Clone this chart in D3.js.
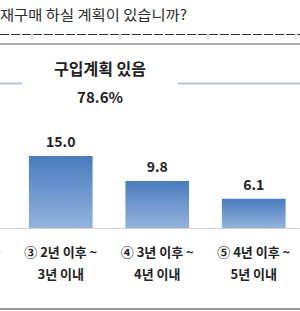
<!DOCTYPE html>
<html>
<head>
<meta charset="utf-8" />
<title>재구매 계획</title>
<style>
  body { margin: 0; background: #fff; }
  svg { display: block; font-family: "Noto Sans CJK KR", "Noto Sans", sans-serif; }
</style>
</head>
<body>
<svg id="chart" width="300" height="311"></svg>
<script src="https://d3js.org/d3.v7.min.js"></script>
<script>
// ---- data ----
var titleText = "재구매 하실 계획이 있습니까?";
var calloutLabel = "구입계획 있음";
var calloutValue = "78.6%";
var categoryLine1 = ["① 1년 이내", "② 1년 이후 ~", "③ 2년 이후 ~", "④ 3년 이후 ~", "⑤ 4년 이후 ~"];
var categoryLine2 = ["", "2년 이내", "3년 이내", "4년 이내", "5년 이내"];
var values = [22.4, 25.3, 15.0, 9.8, 6.1];   // first two are off-screen, estimated

var svg = d3.select("#chart");
var W = 300, baseY = 228;

// title + rules
svg.append("text").attr("x", 0).attr("y", 20)
  .attr("font-size", 14).attr("fill", "#2b2b2b")
  .attr("textLength", 187).attr("lengthAdjust", "spacingAndGlyphs")
  .text(titleText);
svg.append("line").attr("x1", 0).attr("x2", W).attr("y1", 34.5).attr("y2", 34.5)
  .attr("stroke", "#333").attr("stroke-width", 1).attr("stroke-dasharray", "9,2");
svg.append("line").attr("x1", 0).attr("x2", W).attr("y1", 44).attr("y2", 44)
  .attr("stroke", "#aaa").attr("stroke-width", 2);

// callout
svg.append("line").attr("x1", 0).attr("x2", 22).attr("y1", 83.5).attr("y2", 83.5)
  .attr("stroke", "#b3c4d9").attr("stroke-width", 2);
svg.append("line").attr("x1", 178).attr("x2", W).attr("y1", 83.5).attr("y2", 83.5)
  .attr("stroke", "#b3c4d9").attr("stroke-width", 2);
svg.append("text").attr("x", 100).attr("y", 75).attr("text-anchor", "middle")
  .attr("font-size", 16).attr("font-weight", "bold").attr("fill", "#222")
  .text(calloutLabel);
svg.append("text").attr("x", 100).attr("y", 103).attr("text-anchor", "middle")
  .attr("font-size", 15).attr("font-weight", "bold").attr("fill", "#222")
  .text(calloutValue);

// scales
var x = d3.scaleBand().domain(categoryLine1).range([-180.5, 302])
  .paddingInner(0.34).paddingOuter(0.17);
var y = d3.scaleLinear().domain([0, 47.5]).range([baseY, 0]);

var grad = svg.append("defs").append("linearGradient")
  .attr("id", "barGrad").attr("x1", 0).attr("y1", 0).attr("x2", 0).attr("y2", 1);
grad.append("stop").attr("offset", "0%").attr("stop-color", "#4a7cbf");
grad.append("stop").attr("offset", "100%").attr("stop-color", "#93b3dc");

var data = values.map(function(v, i) {
  return { c: categoryLine1[i], l2: categoryLine2[i], v: v };
});

// baseline
svg.append("line").attr("x1", 0).attr("x2", W).attr("y1", baseY + 0.5).attr("y2", baseY + 0.5)
  .attr("stroke", "#d4d4d4").attr("stroke-width", 1);

svg.selectAll("rect.bar").data(data).enter().append("rect")
  .attr("class", "bar")
  .attr("x", function(d) { return x(d.c); })
  .attr("width", x.bandwidth())
  .attr("y", function(d) { return y(d.v); })
  .attr("height", function(d) { return baseY - y(d.v); })
  .attr("fill", "url(#barGrad)");

svg.selectAll("text.val").data(data).enter().append("text")
  .attr("class", "val")
  .attr("x", function(d) { return x(d.c) + x.bandwidth() / 2; })
  .attr("y", function(d) { return y(d.v) - 9; })
  .attr("text-anchor", "middle").attr("font-size", 14).attr("font-weight", "bold")
  .attr("fill", "#222")
  .text(function(d) { return d.v.toFixed(1); });

svg.selectAll("text.cat1").data(data).enter().append("text")
  .attr("class", "cat1")
  .attr("x", function(d) { return x(d.c) + x.bandwidth() / 2; })
  .attr("y", 257)
  .attr("text-anchor", "middle").attr("font-size", 13).attr("font-weight", "bold")
  .attr("fill", "#222")
  .text(function(d) { return d.c; });

svg.selectAll("text.cat2").data(data).enter().append("text")
  .attr("class", "cat2")
  .attr("x", function(d) { return x(d.c) + x.bandwidth() / 2; })
  .attr("y", 279)
  .attr("text-anchor", "middle").attr("font-size", 13).attr("font-weight", "bold")
  .attr("fill", "#222")
  .text(function(d) { return d.l2; });

// bottom rule
svg.append("line").attr("x1", 0).attr("x2", W).attr("y1", 309).attr("y2", 309)
  .attr("stroke", "#999").attr("stroke-width", 2);
</script>
</body>
</html>
